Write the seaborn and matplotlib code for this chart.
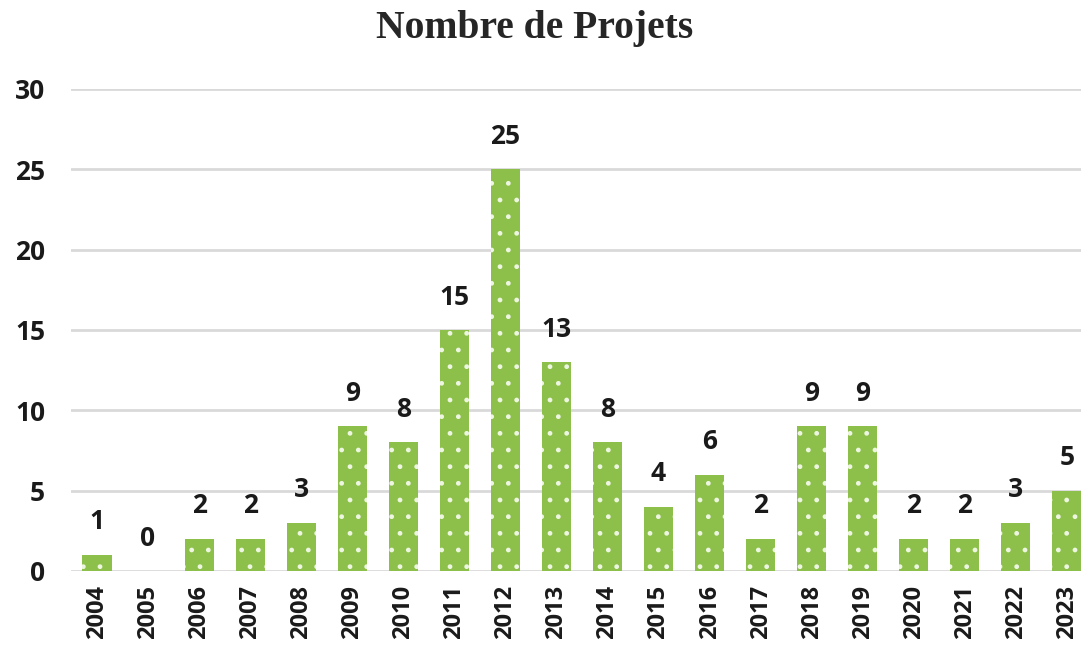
import matplotlib.pyplot as plt
import pandas as pd
import seaborn as sns

years = ['2004', '2005', '2006', '2007', '2008', '2009', '2010', '2011', '2012', '2013',
         '2014', '2015', '2016', '2017', '2018', '2019', '2020', '2021', '2022', '2023']
projets = [1, 0, 2, 2, 3, 9, 8, 15, 25, 13, 8, 4, 6, 2, 9, 9, 2, 2, 3, 5]

df = pd.DataFrame({'annee': years, 'nombre': projets})

sns.set_style('white')
plt.rcParams['font.family'] = ['Open Sans', 'DejaVu Sans']
plt.rcParams['hatch.linewidth'] = 1.0

fig = plt.figure(figsize=(10.81, 6.49), dpi=100)
ax = fig.add_axes([0.0661, 0.1202, 0.9445, 0.7427])

sns.barplot(ax=ax, data=df, x='annee', y='nombre', color='#8DC04B', saturation=1,
            width=0.57, hatch='.', edgecolor='#EEF6E2', linewidth=0)

ax.set_ylim(0, 30)
ax.set_yticks(range(0, 31, 5))
ax.yaxis.grid(True, color='#D9D9D9', linewidth=2)
ax.set_axisbelow(True)
sns.despine(ax=ax, left=True, bottom=True)
ax.set_xlabel('')
ax.set_ylabel('')
ax.tick_params(axis='both', length=0, labelcolor='#1a1a1a')
ax.tick_params(axis='y', pad=19, labelsize=19)
ax.tick_params(axis='x', pad=10, labelsize=17)
for lab in ax.get_xticklabels():
    lab.set_rotation(90)
    lab.set_fontweight('bold')
for lab in ax.get_yticklabels():
    lab.set_fontweight('bold')

ax.bar_label(ax.containers[0], labels=[str(v) for v in projets], padding=14,
             fontsize=19, fontweight='bold', color='#1a1a1a')

fig.text(0.495, 0.956, 'Nombre de Projets', ha='center', va='center', fontsize=28.5,
         fontweight='bold', family='Liberation Serif')

fig.savefig('out.png', dpi=100)
